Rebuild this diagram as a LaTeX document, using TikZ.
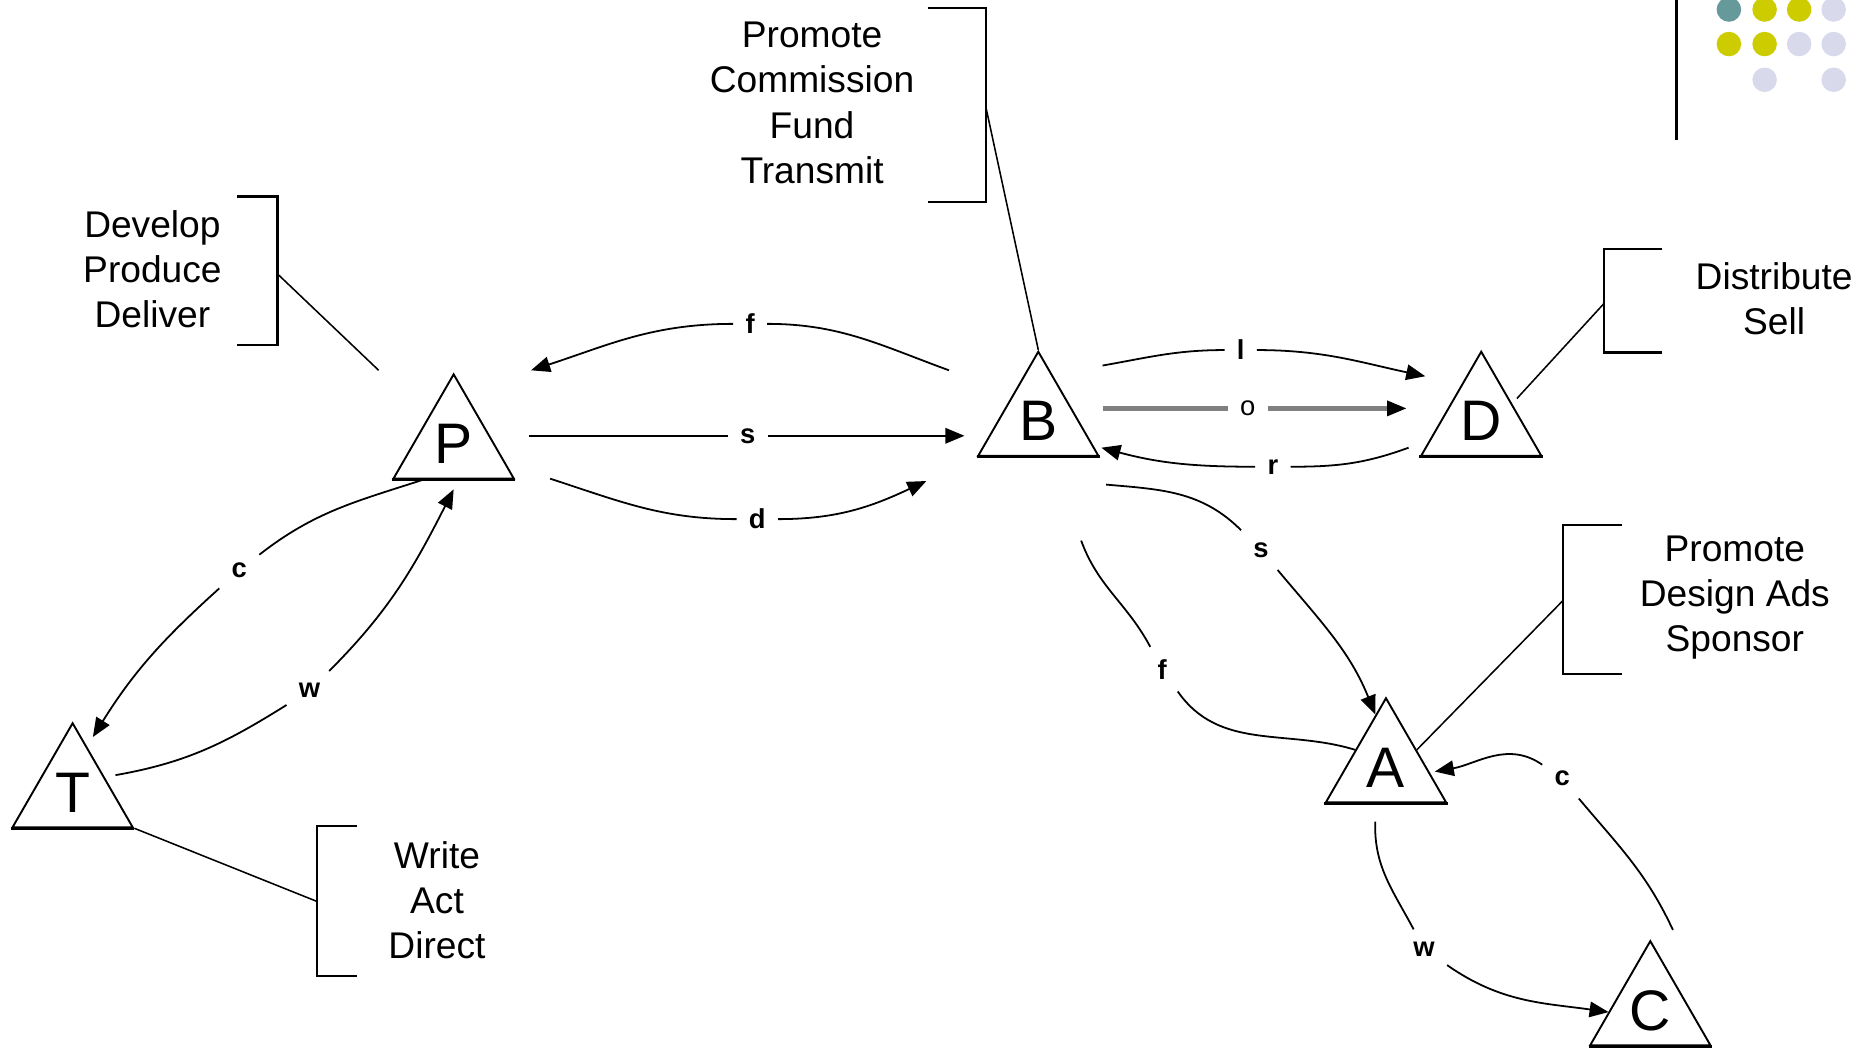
\documentclass[tikz,border=0pt]{standalone}
\usepackage{fontspec}
\setmainfont{Liberation Sans}
\usetikzlibrary{shapes.geometric,arrows.meta,calc}

\definecolor{dotteal}{RGB}{102,153,153}
\definecolor{dotyellow}{RGB}{204,204,0}
\definecolor{dotlilac}{RGB}{217,217,236}
\definecolor{oline}{RGB}{128,128,128}

\begin{document}
\begin{tikzpicture}[x=0.5pt,y=0.5pt,
  actor/.style={draw, regular polygon, regular polygon sides=3,
    minimum size=58.3pt, inner sep=0pt, line width=0.8pt,
    font=\fontsize{24}{24}\selectfont},
  flowlbl/.style={inner sep=5pt, font=\bfseries\fontsize{11.5}{11.5}\selectfont},
  flow/.style={line width=0.75pt},
  tip/.style={-{Triangle[length=8pt,width=6.5pt]}},
  arr/.style={flow, tip},
  duty/.style={align=center, inner sep=0pt, font=\fontsize{15.6}{19}\selectfont},
  brk/.style={line width=0.9pt},
  lead/.style={line width=0.65pt},
  dot/.style={circle, inner sep=0pt, minimum size=10.3pt},
]
\useasboundingbox (0,0) rectangle (1568,-881);

% ---- corner decoration ----
\draw[line width=1pt] (1408,0) -- (1408,-118);
\node[dot, fill=dotteal]   (d11) at (1452,-8)  {};
\node[dot, fill=dotyellow] (d12) at (1482,-8)  {};
\node[dot, fill=dotyellow] (d13) at (1511,-8)  {};
\node[dot, fill=dotlilac]  (d14) at (1540,-8)  {};
\node[dot, fill=dotyellow] (d21) at (1452,-37) {};
\node[dot, fill=dotyellow] (d22) at (1482,-37) {};
\node[dot, fill=dotlilac]  (d23) at (1511,-37) {};
\node[dot, fill=dotlilac]  (d24) at (1540,-37) {};
\node[dot, fill=dotlilac]  (d32) at (1482,-67) {};
\node[dot, fill=dotlilac]  (d34) at (1540,-67) {};

% ---- actors ----
\node[actor] (P) at (381,-372.7)  {P};
\node[actor] (B) at (872,-353.7)  {B};
\node[actor] (D) at (1244,-353.7) {D};
\node[actor] (T) at (61,-665.7)   {T};
\node[actor] (A) at (1164,-644.7) {A};
\node[actor] (C) at (1386,-848.7) {C};
\foreach \n in {P,B,D,T,A,C}
  \draw[line width=1.2pt] (\n.corner 2) -- (\n.corner 3);

% ---- duties ----
\node[duty] (tP) at (128,-226) {Develop\\Produce\\Deliver};
\draw[brk] (199,-165) -- (233,-165) -- (233,-290) -- (199,-290);
\coordinate (bP) at (233,-230);
\coordinate (eP) at (318,-311);
\draw[lead] (bP) -- (eP);

\node[duty] (tB) at (682,-86.5) {Promote\\Commission\\Fund\\Transmit};
\draw[brk] (779,-7) -- (828,-7) -- (828,-170) -- (779,-170);
\coordinate (bB) at (828,-90);
\draw[lead] (bB) -- (B.corner 1);

\node[duty] (tD) at (1490,-251) {Distribute\\Sell};
\draw[brk] (1396,-209) -- (1347,-209) -- (1347,-296) -- (1396,-296);
\coordinate (bD) at (1347,-255);
\draw[lead] (bD) -- ($(D.side 3)+(4,4)$);

\node[duty] (tA) at (1457,-502) {Promote\\Design Ads\\Sponsor};
\draw[brk] (1362,-441) -- (1313,-441) -- (1313,-566) -- (1362,-566);
\coordinate (bA) at (1313,-504);
\draw[lead] (bA) -- (A.side 3);

\node[duty] (tT) at (367,-756) {Write\\Act\\Direct};
\draw[brk] (300,-694) -- (266,-694) -- (266,-820) -- (300,-820);
\coordinate (bT) at (266,-757);
\draw[lead] (bT) -- (T.corner 3);

% ---- flows between P and B ----
\coordinate (fS) at (797,-311);
\coordinate (fE) at (446,-311);
\node[flowlbl] (lf) at (630,-272) {f};
\draw[flow] (fS) to[out=160,in=0] (lf);
\draw[arr] (lf) to[out=180,in=18] (fE);

\coordinate (sS) at (444,-366);
\coordinate (sE) at (810,-366);
\node[flowlbl] (ls) at (628,-366) {s};
\draw[flow] (sS) -- (ls);
\draw[arr] (ls) -- (sE);

\coordinate (dS) at (462,-402);
\coordinate (dE) at (778,-404);
\node[flowlbl] (ld) at (636,-436) {d};
\draw[flow] (dS) to[out=-18,in=180] (ld);
\draw[arr] (ld) to[out=0,in=205] (dE);

% ---- flows between B and D ----
\coordinate (lS) at (926,-307);
\coordinate (lE) at (1197,-316);
\node[flowlbl] (ll) at (1042,-294) {l};
\draw[flow] (lS) to[out=10,in=180] (ll);
\draw[arr] (ll) to[out=0,in=168] (lE);

\coordinate (oS) at (926,-343);
\coordinate (oE) at (1181,-343);
\node[flowlbl, font=\fontsize{11.5}{11.5}\selectfont] (lo) at (1048,-343) {o};
\draw[oline, line width=2pt] (oS) -- (lo);
\draw[oline, line width=2pt] (lo) -- ($(oE)+(-10,0)$);
\draw[flow, tip] ($(oE)+(-10,0)$) -- (oE);

\coordinate (rS) at (1183,-376);
\coordinate (rE) at (925,-376);
\node[flowlbl] (lr) at (1069,-392) {r};
\draw[flow] (rS) to[out=200,in=0] (lr);
\draw[arr] (lr) to[out=180,in=-15] (rE);

% ---- flows between B and A ----
\coordinate (s2S) at (929,-407);
\coordinate (s2E) at (1155,-600);
\node[flowlbl] (ls2) at (1059,-462) {s};
\draw[flow] (s2S) to[out=-5,in=135] (ls2);
\draw[arr] (ls2) to[out=-50,in=112] (s2E);

\coordinate (f2S) at (908,-454);
\node[flowlbl] (lf2) at (976,-562) {f};
\draw[flow] (f2S) to[out=-70,in=118] (lf2);
\draw[flow] (lf2) to[out=-55,in=163] (A.side 1);

% ---- flows between A and C ----
\coordinate (c2S) at (1405,-781);
\coordinate (c2E) at (1205,-648);
\node[flowlbl] (lc2) at (1312,-654) {c};
\draw[flow] (c2S) to[out=115,in=-50] (lc2);
\draw[arr] (lc2) to[out=145,in=10] (c2E);

\coordinate (w2S) at (1155,-690);
\coordinate (w2E) at (1351,-850);
\node[flowlbl] (lw2) at (1196,-797) {w};
\draw[flow] (w2S) to[out=-92,in=118] (lw2);
\draw[arr] (lw2) to[out=-35,in=172] (w2E);

% ---- flows between P and T ----
\coordinate (c3S) at (355,-403);
\coordinate (c3E) at (78,-619);
\node[flowlbl] (lc3) at (201,-479) {c};
\draw[flow] (c3S) to[out=198,in=38] (lc3);
\draw[arr] (lc3) to[out=222,in=58] (c3E);

\coordinate (w3S) at (97,-651);
\coordinate (w3E) at (381,-411);
\node[flowlbl] (lw3) at (260,-580) {w};
\draw[flow] (w3S) to[out=10,in=212] (lw3);
\draw[arr] (lw3) to[out=45,in=243] (w3E);
\end{tikzpicture}
\end{document}
